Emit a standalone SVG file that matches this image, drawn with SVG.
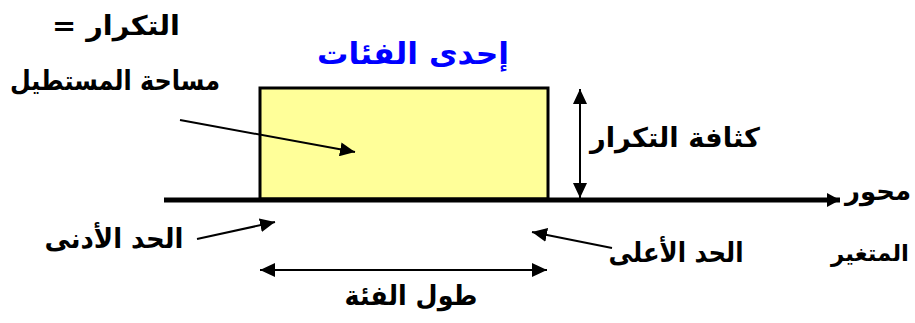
<svg xmlns="http://www.w3.org/2000/svg" width="915" height="323" viewBox="0 0 915 323">
<style>
.t{font-family:"DejaVu Sans","Noto Sans",sans-serif;font-weight:bold;font-size:27px;fill:#000;text-anchor:middle;direction:rtl}
.b{fill:#0000FF;font-size:30px}
.ln{stroke:#000;stroke-width:2;fill:none}
</style>
<defs>
<marker id="ah" markerUnits="userSpaceOnUse" markerWidth="16" markerHeight="14" refX="15" refY="7" orient="auto-start-reverse">
<path d="M0,0 L15,7 L0,14 Z" fill="#000"/>
</marker>
<marker id="ahAxis" markerUnits="userSpaceOnUse" markerWidth="14" markerHeight="14" refX="13" refY="7" orient="auto">
<path d="M0,0 L13,7 L0,14 Z" fill="#000"/>
</marker>
</defs>
<g id="rect-node">
<rect x="260" y="88" width="288" height="111" fill="#FFFF99" stroke="#000" stroke-width="3"/>
</g>
<g id="connectors">
<line x1="164" y1="200" x2="840" y2="200" stroke="#000" stroke-width="5" marker-end="url(#ahAxis)"/>
<line class="ln" x1="580" y1="89" x2="580" y2="198" marker-start="url(#ah)" marker-end="url(#ah)"/>
<line class="ln" x1="180" y1="120" x2="355" y2="152" marker-end="url(#ah)"/>
<line class="ln" x1="197" y1="239" x2="275" y2="222" marker-end="url(#ah)"/>
<line class="ln" x1="612" y1="248" x2="532" y2="232" marker-end="url(#ah)"/>
<line class="ln" x1="260" y1="270" x2="547" y2="270" marker-start="url(#ah)" marker-end="url(#ah)"/>
</g>
<g id="label-freq"><text class="t" x="116" y="35" textLength="128" lengthAdjust="spacingAndGlyphs">التكرار =</text></g>
<g id="label-area"><text class="t" x="115" y="90" textLength="210" lengthAdjust="spacingAndGlyphs">مساحة المستطيل</text></g>
<g id="label-class"><text class="t b" x="413" y="64" textLength="192" lengthAdjust="spacingAndGlyphs">إحدى الفئات</text></g>
<g id="label-density"><text class="t" x="675" y="147" textLength="170" lengthAdjust="spacingAndGlyphs">كثافة التكرار</text></g>
<g id="label-axis1"><text class="t" x="878" y="200" style="font-size:26px">محور</text></g>
<g id="label-axis2"><text class="t" x="870" y="261" style="font-size:23px">المتغير</text></g>
<g id="label-lower"><text class="t" x="114" y="248" textLength="139" lengthAdjust="spacingAndGlyphs">الحد الأدنى</text></g>
<g id="label-upper"><text class="t" x="676" y="262" textLength="135" lengthAdjust="spacingAndGlyphs">الحد الأعلى</text></g>
<g id="label-width"><text class="t" x="411" y="305" textLength="133" lengthAdjust="spacingAndGlyphs">طول الفئة</text></g>
</svg>
